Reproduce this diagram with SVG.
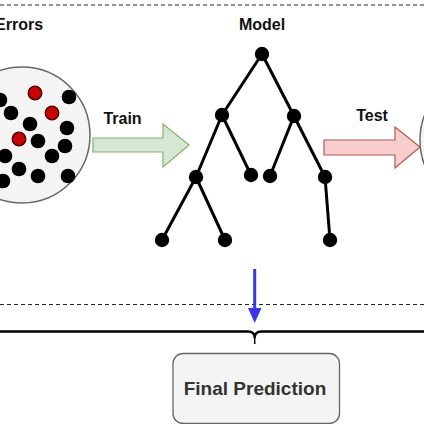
<svg xmlns="http://www.w3.org/2000/svg" width="424" height="424" viewBox="0 0 424 424">
<style>
.lbl{font-family:"Liberation Sans",Arial,sans-serif;font-weight:bold;font-size:16px;fill:#111}
.dash{stroke:#222;stroke-width:1.2;stroke-dasharray:4 3;fill:none}
.edge{stroke:#000;stroke-width:3;fill:none}
.dot{fill:#000}
.red{fill:#cc0000;stroke:#3a0000;stroke-width:1.3}
.pool{fill:#f4f4f4;stroke:#666;stroke-width:1.5}
</style>
<rect width="424" height="424" fill="#fff"/>
<line class="dash" x1="0" y1="5" x2="424" y2="5"/>
<line class="dash" x1="0" y1="304.5" x2="424" y2="304.5"/>
<text class="lbl" x="-5" y="30">Errors</text>
<text class="lbl" x="262" y="30" text-anchor="middle">Model</text>
<text class="lbl" x="122.5" y="124" text-anchor="middle">Train</text>
<text class="lbl" x="372" y="121" text-anchor="middle">Test</text>
<g id="training-data">
<circle class="pool" cx="22" cy="135" r="68"/>
<circle class="dot" cx="0" cy="100" r="7.3"/>
<circle class="dot" cx="69" cy="97" r="7.3"/>
<circle class="dot" cx="11" cy="113" r="7.3"/>
<circle class="dot" cx="30" cy="124" r="7.3"/>
<circle class="dot" cx="67" cy="128" r="7.3"/>
<circle class="dot" cx="38" cy="141" r="7.3"/>
<circle class="dot" cx="65" cy="146" r="7.3"/>
<circle class="dot" cx="5" cy="156" r="7.3"/>
<circle class="dot" cx="52" cy="156" r="7.3"/>
<circle class="dot" cx="19" cy="169" r="7.3"/>
<circle class="dot" cx="38" cy="176" r="7.3"/>
<circle class="dot" cx="68" cy="176" r="7.3"/>
<circle class="dot" cx="3" cy="181" r="7.3"/>
<circle class="red" cx="35" cy="93" r="6.8"/>
<circle class="red" cx="52" cy="113" r="6.8"/>
<circle class="red" cx="19" cy="139" r="6.8"/>
</g>
<g id="test-data">
<circle class="pool" cx="488" cy="140" r="68"/>
</g>
<g id="train-arrow">
<path d="M93,138 H163 V124 L189,145 L163,167 V152 H93 Z" fill="#d5e8d4" stroke="#82b366" stroke-width="1.2"/>
</g>
<g id="test-arrow">
<path d="M324,140 H395 V127 L420,147 L395,168 V155 H324 Z" fill="#f8cecc" stroke="#b85450" stroke-width="1.2"/>
</g>
<g id="model-tree">
<g class="edges">
<path class="edge" d="M262,54 L222,115 M262,54 L294,116 M222,115 L196,177 M222,115 L251,175 M294,116 L270,176 M294,116 L325,177 M196,177 L162,240 M196,177 L225,240 M325,177 L330,240"/>
</g>
<circle class="dot" cx="262" cy="54" r="7.2"/>
<circle class="dot" cx="222" cy="115" r="7.2"/>
<circle class="dot" cx="294" cy="116" r="7.2"/>
<circle class="dot" cx="196" cy="177" r="7.2"/>
<circle class="dot" cx="251" cy="175" r="7.2"/>
<circle class="dot" cx="270" cy="176" r="7.2"/>
<circle class="dot" cx="325" cy="177" r="7.2"/>
<circle class="dot" cx="162" cy="240" r="7.2"/>
<circle class="dot" cx="225" cy="240" r="7.2"/>
<circle class="dot" cx="330" cy="240" r="7.2"/>
</g>
<g id="connectors">
<line x1="254.7" y1="269" x2="254.7" y2="309" stroke="#3838e8" stroke-width="3"/>
<path d="M248,308 L261.5,308 L254.7,323 Z" fill="#3838e8"/>
</g>
<g id="brace">
<path d="M0,331.5 H248 Q254.7,331.5 254.7,338 M254.7,338 Q254.7,331.5 261.4,331.5 H424" fill="none" stroke="#000" stroke-width="2.3"/>
<line x1="254.7" y1="336" x2="254.7" y2="344" stroke="#000" stroke-width="1.5"/>
</g>
<g id="final-prediction">
<rect x="173" y="353.5" width="166.5" height="70" rx="10" fill="#f4f4f4" stroke="#666" stroke-width="1.3"/>
<text x="255" y="395" text-anchor="middle" font-family="Liberation Sans, Arial, sans-serif" font-weight="bold" font-size="19" fill="#333">Final Prediction</text>
</g>
</svg>
